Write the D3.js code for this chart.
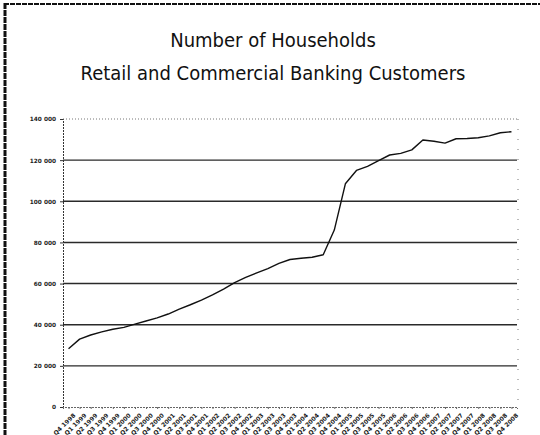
<!DOCTYPE html>
<html>
<head>
<meta charset="utf-8">
<script src="https://cdn.jsdelivr.net/npm/d3@7/dist/d3.min.js"></script>
<style>
  html, body { margin: 0; padding: 0; background: #fff; }
  svg { display: block; }
</style>
</head>
<body>
<svg id="chart" width="540" height="435"></svg>
<script>
// Quarterly households served, Q4 1998 – Q4 2008
const quarters = [
  "Q4 1998",
  "Q1 1999", "Q2 1999", "Q3 1999", "Q4 1999",
  "Q1 2000", "Q2 2000", "Q3 2000", "Q4 2000",
  "Q1 2001", "Q2 2001", "Q3 2001", "Q4 2001",
  "Q1 2002", "Q2 2002", "Q3 2002", "Q4 2002",
  "Q1 2003", "Q2 2003", "Q3 2003", "Q4 2003",
  "Q1 2004", "Q2 2004", "Q3 2004", "Q4 2004",
  "Q1 2005", "Q2 2005", "Q3 2005", "Q4 2005",
  "Q1 2006", "Q2 2006", "Q3 2006", "Q4 2006",
  "Q1 2007", "Q2 2007", "Q3 2007", "Q4 2007",
  "Q1 2008", "Q2 2008", "Q3 2008", "Q4 2008"
];
const households = [
  28300,
  33000, 35000, 36500, 37800,
  38700, 40300, 41800, 43300,
  45200, 47600, 49700, 52000,
  54500, 57300, 60500, 63000,
  65200, 67300, 69800, 71700,
  72300, 72800, 74000, 86000,
  108500, 115000, 117000, 119800,
  122500, 123300, 125000, 129800,
  129200, 128300, 130400, 130500,
  130900, 131800, 133300, 133800
];
const yTicks = [0, 20000, 40000, 60000, 80000, 100000, 120000, 140000];
const titleLines = ["Number of Households", "Retail and Commercial Banking Customers"];

const svg = d3.select("#chart");
const W = 540, H = 435;
const plot = { left: 63, right: 517, top: 119, bottom: 407 };

// outer frame (left and top edges)
svg.append("line").attr("x1", 5).attr("x2", 5).attr("y1", 3).attr("y2", H)
  .attr("stroke", "#111").attr("stroke-width", 3).attr("stroke-dasharray", "6,1");
svg.append("line").attr("x1", 4).attr("x2", W).attr("y1", 4).attr("y2", 4)
  .attr("stroke", "#111").attr("stroke-width", 2).attr("stroke-dasharray", "5,1");

// title
const title = svg.append("g").attr("font-family", "'DejaVu Sans Condensed', 'DejaVu Sans', sans-serif")
  .attr("fill", "#111").attr("text-anchor", "middle");
title.selectAll("text").data(titleLines).join("text")
  .attr("x", 273)
  .attr("y", (d, i) => 47 + i * 33)
  .attr("font-size", 20)
  .text(d => d);

const x = d3.scalePoint().domain(quarters).range([plot.left, plot.right]).padding(0.5);
const y = d3.scaleLinear().domain([0, 140000]).range([plot.bottom, plot.top]);

// horizontal gridlines
svg.append("g").selectAll("line").data(yTicks.filter(t => t > 0 && t < 140000)).join("line")
  .attr("x1", plot.left).attr("x2", plot.right)
  .attr("y1", d => y(d)).attr("y2", d => y(d))
  .attr("stroke", "#2a2a2a").attr("stroke-width", 1.4);

// plot border: top and right dotted
svg.append("line").attr("x1", plot.left).attr("x2", plot.right)
  .attr("y1", plot.top).attr("y2", plot.top)
  .attr("stroke", "#777").attr("stroke-width", 1).attr("stroke-dasharray", "1,2");
svg.append("line").attr("x1", plot.right + 1).attr("x2", plot.right + 1)
  .attr("y1", plot.top).attr("y2", plot.bottom)
  .attr("stroke", "#777").attr("stroke-width", 1).attr("stroke-dasharray", "1,9");

// y axis
const yAxis = d3.axisLeft(y).tickValues(yTicks).tickSize(3).tickPadding(4)
  .tickFormat(d => d3.format(",")(d).replace(/,/g, " "));
const gy = svg.append("g").attr("transform", `translate(${plot.left},0)`).call(yAxis);
gy.select(".domain").attr("stroke", "#333").attr("stroke-dasharray", "2,1");
gy.selectAll(".tick line").attr("stroke", "#333");
gy.selectAll("text").attr("font-family", "'DejaVu Sans', sans-serif")
  .attr("font-size", 5.8).attr("font-weight", "bold").attr("fill", "#222");

// x axis
const xAxis = d3.axisBottom(x).tickSize(2).tickPadding(3);
const gx = svg.append("g").attr("transform", `translate(0,${plot.bottom})`).call(xAxis);
gx.select(".domain").attr("stroke", "#666").attr("stroke-dasharray", "2,1");
gx.selectAll(".tick line").attr("stroke", "#666");
gx.selectAll("text")
  .attr("font-family", "'DejaVu Sans', sans-serif")
  .attr("font-size", 6).attr("font-weight", "bold").attr("fill", "#222")
  .attr("text-anchor", "end")
  .attr("dy", "0.3em")
  .attr("transform", "translate(2,4) rotate(-45)");

// series line
const line = d3.line().x((d, i) => x(quarters[i])).y(d => y(d));
svg.append("path").datum(households)
  .attr("d", line)
  .attr("fill", "none")
  .attr("stroke", "#111")
  .attr("stroke-width", 1.4)
  .attr("stroke-linejoin", "round");
</script>
</body>
</html>
